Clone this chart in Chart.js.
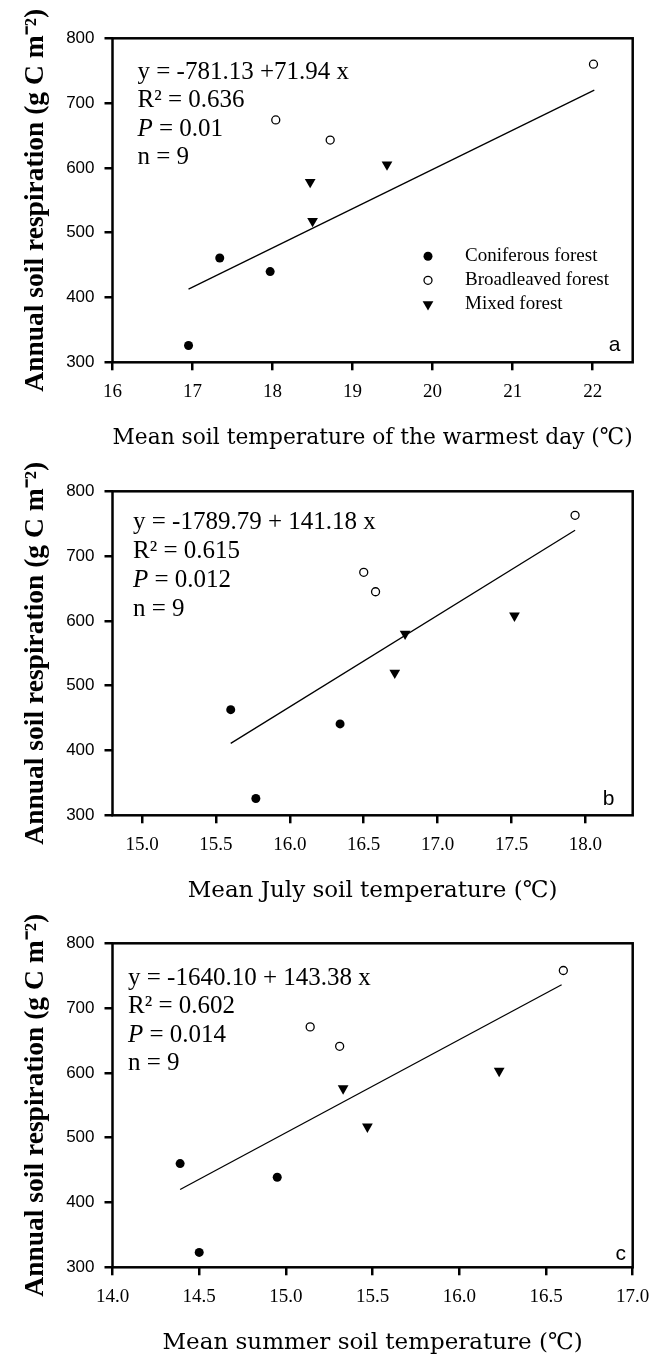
<!DOCTYPE html>
<html>
<head>
<meta charset="utf-8">
<script src="https://cdn.jsdelivr.net/npm/chart.js@4.4.1/dist/chart.umd.min.js"></script>
<style>
  html, body { margin: 0; padding: 0; background: #fff; }
  #wrap { position: relative; width: 650px; height: 1360px; }
  .panel { position: absolute; left: 0; width: 650px; height: 452px; }
</style>
</head>
<body>
<div id="wrap">
  <div class="panel" style="top:0px"><canvas id="chartA" width="650" height="452"></canvas></div>
  <div class="panel" style="top:453px"><canvas id="chartB" width="650" height="452"></canvas></div>
  <div class="panel" style="top:905px"><canvas id="chartC" width="650" height="452"></canvas></div>
</div>
<script>
const forestNames = ["Coniferous forest", "Broadleaved forest", "Mixed forest"];
const yTicks = [300, 400, 500, 600, 700, 800];
const yTitle = "Annual soil respiration (g C m\u207B\u00B2)";

// panel a - warmest day
const aTicks = [16, 17, 18, 19, 20, 21, 22];
const aConiferX = [16.95, 17.34, 17.97];
const aConiferY = [326, 461, 440];
const aBroadX = [18.04, 18.72, 22.01];
const aBroadY = [674, 643, 760];
const aMixedX = [18.47, 18.5, 19.43];
const aMixedY = [578, 518, 605];
const aLineX = [16.95, 22.02];
const aLineY = [413, 720];
const aNotes = ["y = -781.13 +71.94 x", "0.636", "0.01", "n = 9"];

// panel b - July
const bTicks = [15.0, 15.5, 16.0, 16.5, 17.0, 17.5, 18.0];
const bConiferX = [15.6, 15.77, 16.34];
const bConiferY = [463, 326, 441];
const bBroadX = [16.5, 16.58, 17.93];
const bBroadY = [675, 645, 763];
const bMixedX = [16.78, 16.71, 17.52];
const bMixedY = [580, 520, 608];
const bLineX = [15.6, 17.93];
const bLineY = [411, 740];
const bNotes = ["y = -1789.79 + 141.18 x", "0.615", "0.012", "n = 9"];

// panel c - summer
const cTicks = [14.0, 14.5, 15.0, 15.5, 16.0, 16.5, 17.0];
const cConiferX = [14.39, 14.5, 14.95];
const cConiferY = [460, 323, 439];
const cBroadX = [15.14, 15.31, 16.6];
const cBroadY = [671, 641, 758];
const cMixedX = [15.33, 15.47, 16.23];
const cMixedY = [576, 517, 603];
const cLineX = [14.39, 16.59];
const cLineY = [420, 736];
const cNotes = ["y = -1640.10 + 143.38 x", "0.602", "0.014", "n = 9"];

const SERIF = "'Liberation Serif', 'Times New Roman', serif";
const WIDE_SERIF = "'DejaVu Serif', serif";
const SANS = "'Liberation Sans', Arial, sans-serif";

function pts(xs, ys) {
  return xs.map((x, i) => ({ x: x, y: ys[i] }));
}

const pointLook = [
  { pointStyle: "circle", rotation: 0, radius: 4.5, borderWidth: 0, fill: "#000" },
  { pointStyle: "circle", rotation: 0, radius: 4, borderWidth: 1.3, fill: "#fff" },
  { pointStyle: "triangle", rotation: 180, radius: 6.2, borderWidth: 0, fill: "#000" }
];

//box around the plot area
const framePlugin = {
  id: "frame",
  afterDraw(chart) {
    const a = chart.chartArea;
    const ctx = chart.ctx;
    ctx.save();
    ctx.strokeStyle = "#000";
    ctx.lineWidth = 2.5;
    ctx.strokeRect(a.left, a.top, a.right - a.left, a.bottom - a.top);
    ctx.restore();
  }
};

//equation text, panel letter and legend
const notesPlugin = {
  id: "notes",
  afterDraw(chart, args, o) {
    if (!o || !o.lines) return;
    const a = chart.chartArea;
    const ctx = chart.ctx;
    ctx.save();
    ctx.fillStyle = "#000";
    ctx.textBaseline = "middle";
    ctx.textAlign = "left";
    const x = a.left + o.x;
    let y = a.top + o.y0;
    ctx.font = "25px " + SERIF;
    ctx.fillText(o.lines[0], x, y);
    y += o.dy;
    ctx.fillText("R\u00B2 = " + o.lines[1], x, y);
    y += o.dy;
    ctx.font = "italic 25px " + SERIF;
    ctx.fillText("P", x, y);
    const pw = ctx.measureText("P").width;
    ctx.font = "25px " + SERIF;
    ctx.fillText(" = " + o.lines[2], x + pw, y);
    y += o.dy;
    ctx.fillText(o.lines[3], x, y);

    ctx.font = "21px " + SANS;
    ctx.textAlign = "center";
    ctx.fillText(o.letter, a.right - o.lx, a.bottom - o.ly);

    if (o.legend) {
      ctx.textAlign = "left";
      ctx.font = "19px " + SERIF;
      forestNames.forEach((name, i) => {
        const look = pointLook[i];
        const ly = a.top + o.legend.y0 + i * o.legend.dy;
        const mx = a.left + o.legend.mx;
        ctx.fillStyle = look.fill;
        ctx.strokeStyle = "#000";
        ctx.lineWidth = look.borderWidth;
        Chart.helpers.drawPoint(ctx, look, mx, ly);
        ctx.fillStyle = "#000";
        ctx.fillText(name, a.left + o.legend.tx, ly);
      });
    }
    ctx.restore();
  }
};

function makeChart(id, p) {
  const sets = [
    [p.coniferX, p.coniferY], [p.broadX, p.broadY], [p.mixedX, p.mixedY]
  ].map((d, i) => ({
    label: forestNames[i],
    data: pts(d[0], d[1]),
    showLine: false,
    pointStyle: pointLook[i].pointStyle,
    rotation: pointLook[i].rotation,
    pointRadius: pointLook[i].radius,
    pointBorderWidth: pointLook[i].borderWidth,
    pointBackgroundColor: pointLook[i].fill,
    pointBorderColor: "#000"
  }));
  sets.push({
    label: "fit",
    data: pts(p.lineX, p.lineY),
    showLine: true,
    pointRadius: 0,
    borderColor: "#000",
    borderWidth: 1.3,
    fill: false
  });

  return new Chart(document.getElementById(id), {
    type: "scatter",
    data: { datasets: sets },
    options: {
      responsive: false,
      animation: false,
      layout: { autoPadding: false, padding: { top: 38.3, right: 17.3, left: 0, bottom: 0 } },
      scales: {
        x: {
          type: "linear",
          min: p.xMin,
          max: p.xMax,
          afterBuildTicks: s => { s.ticks = p.ticks.map(v => ({ value: v })); },
          afterFit: s => { s.height = 89.7; s.paddingLeft = 0; s.paddingRight = 0; },
          ticks: {
            color: "#000",
            padding: 10,
            maxRotation: 0,
            font: { family: SERIF, size: 19 },
            callback: v => v.toFixed(p.decimals)
          },
          grid: { drawOnChartArea: false, drawTicks: true, tickLength: 8, color: "#000", lineWidth: 2.5 },
          border: { display: false },
          title: {
            display: true,
            text: p.xTitle,
            color: "#000",
            padding: { top: 0, bottom: 2 },
            font: { family: WIDE_SERIF, size: 23, lineHeight: 1 }
          }
        },
        y: {
          type: "linear",
          min: 300,
          max: 800,
          afterBuildTicks: s => { s.ticks = yTicks.map(v => ({ value: v })); },
          afterFit: s => { s.width = 112.5; s.paddingTop = 0; s.paddingBottom = 0; },
          ticks: {
            color: "#000",
            padding: 10,
            font: { family: SANS, size: 17 }
          },
          grid: { drawOnChartArea: false, drawTicks: true, tickLength: 8, color: "#000", lineWidth: 2.5 },
          border: { display: false },
          title: {
            display: true,
            text: yTitle,
            color: "#000",
            padding: { top: 22, bottom: 0 },
            font: { family: SERIF, size: 27.5, weight: "bold", lineHeight: 1 }
          }
        }
      },
      plugins: {
        legend: { display: false },
        tooltip: { enabled: false },
        notes: p.notes
      }
    },
    plugins: [framePlugin, notesPlugin]
  });
}

makeChart("chartA", {
  coniferX: aConiferX, coniferY: aConiferY,
  broadX: aBroadX, broadY: aBroadY,
  mixedX: aMixedX, mixedY: aMixedY,
  lineX: aLineX, lineY: aLineY,
  ticks: aTicks, xMin: 16, xMax: 22.5, decimals: 0,
  xTitle: "Mean soil temperature of the warmest day (\u2103)",
  notes: {
    lines: aNotes, x: 25, y0: 34, dy: 28.5, letter: "a", lx: 18, ly: 17,
    legend: { mx: 315.5, tx: 352.5, y0: 218, dy: 24 }
  }
});

makeChart("chartB", {
  coniferX: bConiferX, coniferY: bConiferY,
  broadX: bBroadX, broadY: bBroadY,
  mixedX: bMixedX, mixedY: bMixedY,
  lineX: bLineX, lineY: bLineY,
  ticks: bTicks, xMin: 14.8, xMax: 18.32, decimals: 1,
  xTitle: "Mean July soil temperature (\u2103)",
  notes: { lines: bNotes, x: 20.5, y0: 31, dy: 29, letter: "b", lx: 24, ly: 16 }
});

makeChart("chartC", {
  coniferX: cConiferX, coniferY: cConiferY,
  broadX: cBroadX, broadY: cBroadY,
  mixedX: cMixedX, mixedY: cMixedY,
  lineX: cLineX, lineY: cLineY,
  ticks: cTicks, xMin: 14, xMax: 17, decimals: 1,
  xTitle: "Mean summer soil temperature (\u2103)",
  notes: { lines: cNotes, x: 15.5, y0: 35, dy: 28.5, letter: "c", lx: 12, ly: 13 }
});
</script>
</body>
</html>
